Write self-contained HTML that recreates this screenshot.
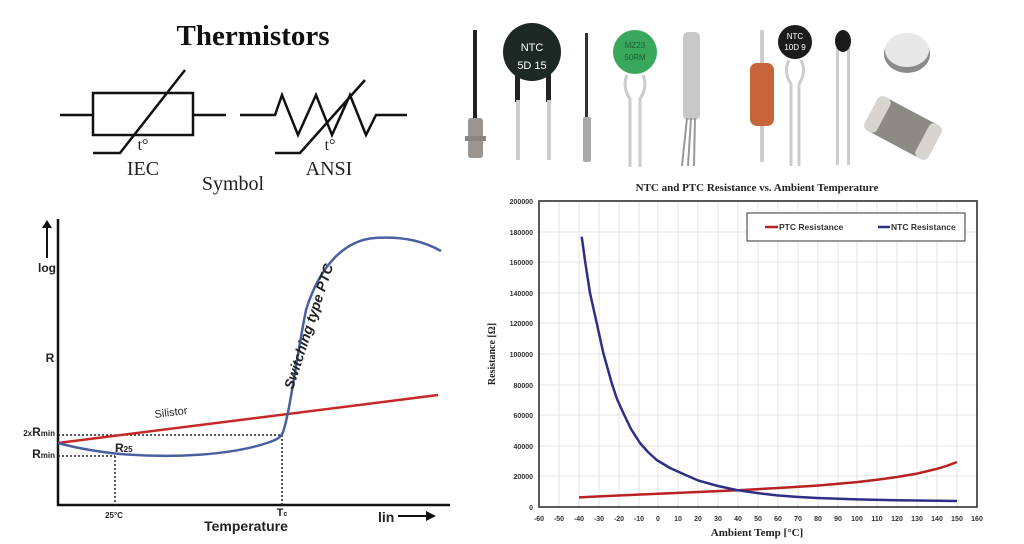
<!DOCTYPE html>
<html><head><meta charset="utf-8"><style>
html,body{margin:0;padding:0;background:#fff;}
svg{display:block;}
</style></head><body>
<svg width="1024" height="544" viewBox="0 0 1024 544" xmlns="http://www.w3.org/2000/svg">
<rect width="1024" height="544" fill="#fff"/>
<!-- Title & symbols -->
<text x="253" y="45" font-family="Liberation Serif,serif" font-weight="bold" font-size="29" text-anchor="middle" fill="#111">Thermistors</text>
<g stroke="#111" stroke-width="2.5" fill="none">
<line x1="60" y1="115" x2="93" y2="115"/>
<rect x="93" y="93" width="100" height="42"/>
<line x1="193" y1="115" x2="226" y2="115"/>
<polyline points="93,153 120,153 185,70"/>
<polyline points="240,115 275,115 282,95 298,135 316,95 332,135 350,95 366,135 376,115 407,115"/>
<polyline points="275,153 300,153 365,80"/>
</g>
<g font-family="Liberation Serif,serif" font-size="20" fill="#222" text-anchor="middle">
<text x="143" y="150" font-size="16">t°</text>
<text x="330" y="150" font-size="16">t°</text>
<text x="143" y="175">IEC</text>
<text x="329" y="175">ANSI</text>
<text x="233" y="190">Symbol</text>
</g>

<!-- Components photos -->
<g>
<rect x="473" y="30" width="4" height="90" fill="#222"/>
<rect x="468" y="118" width="15" height="40" rx="3" fill="#9a9590"/>
<rect x="465" y="136" width="21" height="5" fill="#8a8580"/>
<rect x="515" y="72" width="5" height="30" fill="#222"/><rect x="546" y="72" width="5" height="30" fill="#222"/>
<rect x="516" y="100" width="4" height="60" fill="#ccc"/><rect x="547" y="100" width="4" height="60" fill="#ccc"/>
<circle cx="532" cy="52" r="29" fill="#1e2824"/>
<text x="532" y="51" font-family="Liberation Sans,sans-serif" font-size="11" fill="#fff" text-anchor="middle">NTC</text>
<text x="532" y="69" font-family="Liberation Sans,sans-serif" font-size="11" fill="#fff" text-anchor="middle">5D 15</text>
<rect x="585" y="33" width="3" height="86" fill="#333"/>
<rect x="583" y="117" width="8" height="45" rx="2" fill="#aaa"/>
<path d="M627,75 q-5,12 3,24 v68 M643,75 q5,12 -3,24 v68" stroke="#ccc" stroke-width="3" fill="none"/>
<circle cx="635" cy="52" r="22" fill="#3aa85c"/>
<text x="635" y="48" font-family="Liberation Sans,sans-serif" font-size="8" fill="#1d5e30" text-anchor="middle">MZ23</text>
<text x="635" y="60" font-family="Liberation Sans,sans-serif" font-size="8" fill="#1d5e30" text-anchor="middle">50RM</text>
<rect x="683" y="32" width="17" height="88" rx="5" fill="#c8c8c8"/>
<path d="M687,118 l-5,48 M691,118 l-3,48 M695,118 l-1,48" stroke="#999" stroke-width="2"/>
<rect x="760" y="30" width="4" height="132" fill="#ccc"/>
<rect x="750" y="63" width="24" height="63" rx="7" fill="#c8643a"/>
<path d="M789,60 q-6,12 2,24 v82 M801,60 q6,12 -2,24 v82" stroke="#ccc" stroke-width="3" fill="none"/>
<circle cx="795" cy="42" r="17" fill="#1b1b1b"/>
<text x="795" y="39" font-family="Liberation Sans,sans-serif" font-size="8" fill="#fff" text-anchor="middle">NTC</text>
<text x="795" y="50" font-family="Liberation Sans,sans-serif" font-size="8" fill="#fff" text-anchor="middle">10D 9</text>
<rect x="836" y="48" width="3" height="117" fill="#ccc"/><rect x="847" y="48" width="3" height="117" fill="#ccc"/>
<ellipse cx="843" cy="41" rx="8" ry="11" fill="#1b1b1b"/>
<ellipse cx="907" cy="54" rx="23" ry="19" fill="#8a8a8a"/>
<ellipse cx="907" cy="50" rx="22" ry="17" fill="#e8e8e8"/>
<g transform="translate(903,128) rotate(28)">
<rect x="-36" y="-19" width="72" height="38" rx="6" fill="#8d8985"/>
<rect x="-36" y="-19" width="14" height="38" rx="5" fill="#d8d4cf"/>
<rect x="22" y="-19" width="14" height="38" rx="5" fill="#d8d4cf"/>
</g>
</g>

<!-- Left PTC chart -->
<g>
<line x1="58" y1="219" x2="58" y2="506" stroke="#111" stroke-width="2.5"/>
<line x1="57" y1="505" x2="450" y2="505" stroke="#111" stroke-width="2.5"/>
<line x1="47" y1="258" x2="47" y2="226" stroke="#111" stroke-width="2"/>
<polygon points="42,228 52,228 47,220" fill="#111"/>
<g stroke="#222" stroke-width="1.5" stroke-dasharray="2,2" fill="none">
<line x1="58" y1="435" x2="282" y2="435"/>
<line x1="58" y1="456" x2="115" y2="456"/>
<line x1="115" y1="456" x2="115" y2="505"/>
<line x1="282" y1="435" x2="282" y2="505"/>
</g>
<line x1="58" y1="443" x2="438" y2="395" stroke="#c62828" stroke-width="2.5"/>
<path d="M58,443 C80,449 100,452 120,454 C170,458 230,456 270,442 C278,439 281,437 283,432 C290,412 296,360 306,310 C320,265 345,240 375,238 C405,236 425,242 441,251" stroke="#4a5fa0" stroke-width="2.5" fill="none"/>
<g font-family="Liberation Sans,sans-serif" fill="#222">
<text x="47" y="272" font-size="12" font-weight="bold" text-anchor="middle">log</text>
<text x="50" y="362" font-size="12" font-weight="bold" text-anchor="middle">R</text>
<text x="55" y="436" font-size="12" font-weight="bold" text-anchor="end"><tspan font-size="8">2x</tspan>R<tspan font-size="8">min</tspan></text>
<text x="55" y="458" font-size="12" font-weight="bold" text-anchor="end">R<tspan font-size="8">min</tspan></text>
<text x="115" y="452" font-size="12" font-weight="bold">R<tspan font-size="8">25</tspan></text>
<text x="155" y="418" font-size="11" transform="rotate(-7 155 418)">Silistor</text>
<text x="114" y="518" font-size="8" font-weight="bold" text-anchor="middle">25°C</text>
<text x="282" y="516" font-size="11" font-weight="bold" text-anchor="middle">T<tspan font-size="7">c</tspan></text>
<text x="246" y="531" font-size="14" font-weight="bold" text-anchor="middle">Temperature</text>
<text x="378" y="522" font-size="14" font-weight="bold">lin</text>
<text x="293" y="390" font-size="14" font-weight="bold" font-style="italic" transform="rotate(-72 293 390)">Switching type PTC</text>
</g>
<line x1="398" y1="516" x2="428" y2="516" stroke="#111" stroke-width="2"/>
<polygon points="426,511 436,516 426,521" fill="#111"/>
</g>

<!-- Right chart -->
<g font-family="Liberation Serif,serif">
<text x="757" y="191" font-size="11" font-weight="bold" text-anchor="middle" fill="#222">NTC and PTC Resistance vs. Ambient Temperature</text>
<g stroke="#ddd" stroke-width="0.8">
<line x1="559" y1="201" x2="559" y2="507"/><line x1="579" y1="201" x2="579" y2="507"/><line x1="599" y1="201" x2="599" y2="507"/><line x1="619" y1="201" x2="619" y2="507"/><line x1="639" y1="201" x2="639" y2="507"/><line x1="658" y1="201" x2="658" y2="507"/><line x1="678" y1="201" x2="678" y2="507"/><line x1="698" y1="201" x2="698" y2="507"/><line x1="718" y1="201" x2="718" y2="507"/><line x1="738" y1="201" x2="738" y2="507"/><line x1="758" y1="201" x2="758" y2="507"/><line x1="778" y1="201" x2="778" y2="507"/><line x1="798" y1="201" x2="798" y2="507"/><line x1="818" y1="201" x2="818" y2="507"/><line x1="838" y1="201" x2="838" y2="507"/><line x1="857" y1="201" x2="857" y2="507"/><line x1="877" y1="201" x2="877" y2="507"/><line x1="897" y1="201" x2="897" y2="507"/><line x1="917" y1="201" x2="917" y2="507"/><line x1="937" y1="201" x2="937" y2="507"/><line x1="957" y1="201" x2="957" y2="507"/>
<line x1="539" y1="232" x2="977" y2="232"/><line x1="539" y1="262" x2="977" y2="262"/><line x1="539" y1="293" x2="977" y2="293"/><line x1="539" y1="323" x2="977" y2="323"/><line x1="539" y1="354" x2="977" y2="354"/><line x1="539" y1="385" x2="977" y2="385"/><line x1="539" y1="415" x2="977" y2="415"/><line x1="539" y1="446" x2="977" y2="446"/><line x1="539" y1="476" x2="977" y2="476"/>
</g>
<rect x="539" y="201" width="438" height="306" fill="none" stroke="#222" stroke-width="1.5"/>
<g font-family="Liberation Sans,sans-serif" font-size="7" font-weight="bold" fill="#333" text-anchor="end">
<text x="533" y="204">200000</text><text x="533" y="235">180000</text><text x="533" y="265">160000</text><text x="533" y="296">140000</text><text x="533" y="326">120000</text><text x="533" y="357">100000</text><text x="533" y="388">80000</text><text x="533" y="418">60000</text><text x="533" y="449">40000</text><text x="533" y="479">20000</text><text x="533" y="510">0</text>
</g>
<g font-family="Liberation Sans,sans-serif" font-size="7" font-weight="bold" fill="#333" text-anchor="middle">
<text x="539" y="521">-60</text><text x="559" y="521">-50</text><text x="579" y="521">-40</text><text x="599" y="521">-30</text><text x="619" y="521">-20</text><text x="639" y="521">-10</text><text x="658" y="521">0</text><text x="678" y="521">10</text><text x="698" y="521">20</text><text x="718" y="521">30</text><text x="738" y="521">40</text><text x="758" y="521">50</text><text x="778" y="521">60</text><text x="798" y="521">70</text><text x="818" y="521">80</text><text x="838" y="521">90</text><text x="857" y="521">100</text><text x="877" y="521">110</text><text x="897" y="521">120</text><text x="917" y="521">130</text><text x="937" y="521">140</text><text x="957" y="521">150</text><text x="977" y="521">160</text>
</g>
<text x="757" y="536" font-size="11" font-weight="bold" text-anchor="middle" fill="#222">Ambient Temp [°C]</text>
<text x="495" y="354" font-size="10" font-weight="bold" text-anchor="middle" fill="#222" transform="rotate(-90 495 354)">Resistance [Ω]</text>
<polyline fill="none" stroke="#b82222" stroke-width="2.5" stroke-linejoin="round" points="579,497.4 618,495.5 658,493.7 698,492 738,490.3 778,488 817,485.6 857,482.1 877,479.8 897,477 917,473.6 937,468.8 947,465.8 957,462"/>
<polyline fill="none" stroke="#2e2e86" stroke-width="2.5" stroke-linejoin="round" points="581.7,236.7 585.5,264 590,293 596.7,323 603.3,353 611.7,383 617,399 623.3,413 631,429 640,443 648,452 656.7,460 670,468 686.7,475.5 698,480.4 718,486 738,490.3 758,493.1 777,495.4 797,496.9 817,498 857,499.4 897,500.3 957,501"/>
<rect x="747" y="213" width="218" height="28" fill="#fff" stroke="#333" stroke-width="1"/>
<line x1="765" y1="227" x2="778" y2="227" stroke="#b82222" stroke-width="2.5"/>
<line x1="878" y1="227" x2="890" y2="227" stroke="#2e2e86" stroke-width="2.5"/>
<g font-family="Liberation Sans,sans-serif" font-size="8.5" font-weight="bold" fill="#333">
<text x="779" y="230">PTC Resistance</text><text x="891" y="230">NTC Resistance</text>
</g>
</g>
</svg>
</body></html>
